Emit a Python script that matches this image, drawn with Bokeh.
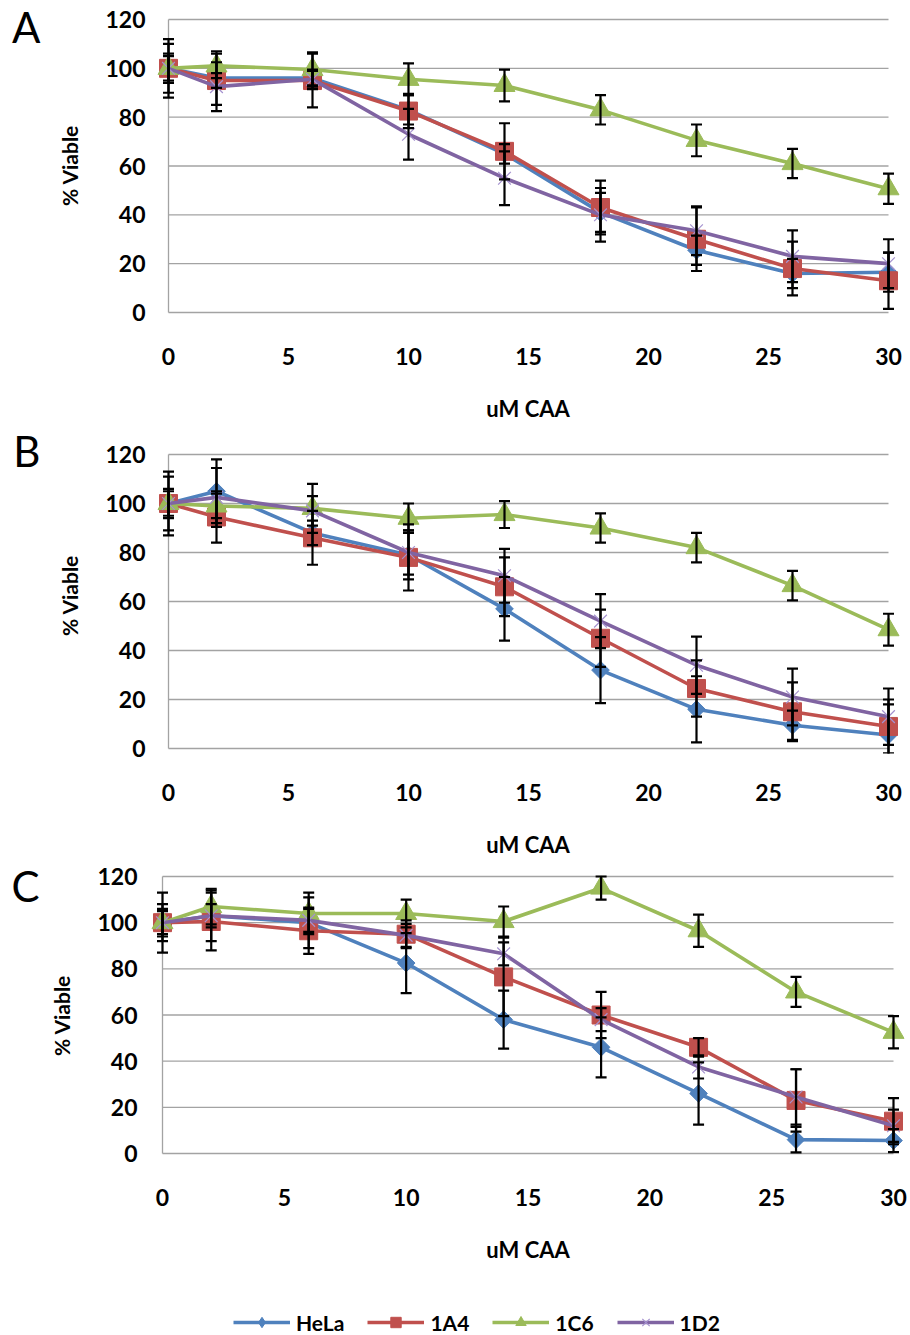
from bokeh.plotting import figure
from bokeh.layouts import column
from bokeh.models import Range1d, Legend, LegendItem, FixedTicker, LinearAxis
from bokeh.embed import file_html
from bokeh.resources import INLINE

# ---------------- data ----------------
conc = [0, 2, 6, 10, 14, 18, 22, 26, 30]
series_names = ["HeLa", "1A4", "1C6", "1D2"]
x_ticks = [0, 5, 10, 15, 20, 25, 30]
y_ticks = [0, 20, 40, 60, 80, 100, 120]
x_title = "uM CAA"
y_title = "% Viable"
panel_letters = ["A", "B", "C"]

# Panel A
a_hela = [100, 96, 96, 83, 65, 41, 25.5, 16, 16.5]
a_hela_err = [12, 11, 3, 6, 4, 8, 6, 6, 8]
a_1a4 = [100, 95, 95, 82.5, 66, 43, 30, 18, 13]
a_1a4_err = [6, 3, 11, 7, 11.5, 11, 13, 11, 11.5]
a_1c6 = [100, 101, 99.5, 95.5, 93, 83, 70.5, 61, 50.7]
a_1c6_err = [5, 5, 7, 6.5, 6.5, 6, 6.5, 6, 6.2]
a_1d2 = [100, 92.5, 95.5, 73, 55, 40, 33.5, 23, 20]
a_1d2_err = [10, 10, 4, 10.4, 11, 11, 10, 10.6, 10]

# Panel B
b_hela = [100, 105, 88, 79, 57, 32, 16, 9.5, 5.5]
b_hela_err = [13, 13, 5, 10, 13, 13.5, 13.5, 6, 12.5]
b_1a4 = [100, 94.5, 86, 78, 66, 45, 24.5, 15, 9]
b_1a4_err = [11, 10.5, 11, 13.5, 12, 11.7, 11.5, 12, 11]
b_1c6 = [100, 99, 98, 94, 95.5, 90, 82, 66.5, 48.5]
b_1c6_err = [5, 5, 10, 6, 5.5, 6, 6, 6, 6.5]
b_1d2 = [100, 102.5, 97, 80, 70.5, 52, 34, 21, 13]
b_1d2_err = [6, 12, 6, 9, 11, 11, 11.7, 11.6, 11.5]

# Panel C
c_hela = [100, 103, 100, 82.5, 58, 46, 26, 6, 5.6]
c_hela_err = [13, 11, 11, 13, 12.6, 13, 13.5, 5.5, 5]
c_1a4 = [100, 100.5, 96.5, 95, 76.5, 60, 46, 23, 14]
c_1a4_err = [8, 12.5, 10, 6, 17, 10, 4, 13.5, 10]
c_1c6 = [100, 107, 104, 104, 100.5, 115, 96.5, 70, 52.5]
c_1c6_err = [5, 7.7, 9, 6, 6.5, 5, 7, 6.5, 7]
c_1d2 = [100, 103, 101, 94.5, 86.5, 58, 37.5, 24.5, 12]
c_1d2_err = [6, 5, 5, 5, 5, 5, 5, 12, 7]

# ---------------- style / layout ----------------
FONT = "Lato"
colors = ["#4F81BD", "#C0504D", "#9BBB59", "#8064A2"]
xcolor = "#A592CF"
markers = ["square", "square", "triangle", "x"]
angles = [0.785398, 0.0, 0.0, 0.0]
msizes = [12.5, 18, 21, 18]
GRID = "#A3A3A3"
FL, FW, FR = 150, 755, 5   # common frame left, width, right border

panels = [
    dict(ys=[a_hela, a_1a4, a_1c6, a_1d2],
         errs=[a_hela_err, a_1a4_err, a_1c6_err, a_1d2_err],
         geo=(168, 888, 19, 312, 0, 426), frame_top=13, lab_right=145, let_so=14),
    dict(ys=[b_hela, b_1a4, b_1c6, b_1d2],
         errs=[b_hela_err, b_1a4_err, b_1c6_err, b_1d2_err],
         geo=(168, 888, 454, 748, 426, 436), frame_top=437, lab_right=145, let_so=14),
    dict(ys=[c_hela, c_1a4, c_1c6, c_1d2],
         errs=[c_hela_err, c_1a4_err, c_1c6_err, c_1d2_err],
         geo=(162, 893, 876, 1153, 862, 418), frame_top=872, lab_right=137, let_so=7),
]


def make_panel(cfg, letter):
    x0px, x30px, y120px, y0px, top, height = cfg["geo"]
    ppux = (x30px - x0px) / (x_ticks[-1] - x_ticks[0])
    ppuy = (y0px - y120px) / (y_ticks[-1] - y_ticks[0])
    ft_abs = cfg["frame_top"]
    fb_abs = round(y0px + 2 * ppuy)
    fh = fb_abs - ft_abs
    xs = x_ticks[0] + (FL - x0px) / ppux
    xe = xs + FW / ppux
    ybot = y_ticks[0] + (y0px - fb_abs) / ppuy
    ytop = ybot + fh / ppuy

    p = figure(frame_width=FW, frame_height=fh,
               min_border_left=FL, min_border_right=FR,
               min_border_top=ft_abs - top, min_border_bottom=height - (fb_abs - top),
               x_range=Range1d(xs, xe), y_range=Range1d(ybot, ytop),
               toolbar_location=None, output_backend="svg",
               outline_line_color=None, background_fill_color="white",
               border_fill_color="white")
    p.xgrid.visible = False
    p.ygrid.visible = False

    # gridlines and left axis line
    p.segment(x0=[x_ticks[0]] * len(y_ticks), x1=[x_ticks[-1]] * len(y_ticks),
              y0=y_ticks, y1=y_ticks, line_color=GRID, line_width=1.3)
    p.segment(x0=[x_ticks[0]], x1=[x_ticks[0]], y0=[y_ticks[0]], y1=[y_ticks[-1]],
              line_color=GRID, line_width=1.3)

    for i, (yv, col) in enumerate(zip(cfg["ys"], colors)):
        p.line(conc, yv, line_color=col, line_width=3.6)
        if markers[i] == "x":
            p.scatter(conc, yv, marker="x", size=msizes[i], line_color=xcolor,
                      line_width=1.2)
        else:
            p.scatter(conc, yv, marker=markers[i], size=msizes[i], angle=angles[i],
                      fill_color=col, line_color=col)

    for yv, ev in zip(cfg["ys"], cfg["errs"]):
        lo = [a - b for a, b in zip(yv, ev)]
        hi = [a + b for a, b in zip(yv, ev)]
        p.segment(x0=conc, x1=conc, y0=lo, y1=hi, line_color="black", line_width=2.2)
        p.scatter(conc, lo, marker="dash", size=11, line_color="black", line_width=2.2)
        p.scatter(conc, hi, marker="dash", size=11, line_color="black", line_width=2.2)

    # axes
    xa = p.xaxis[0]
    xa.ticker = FixedTicker(ticks=x_ticks)
    xa.axis_line_color = None
    xa.major_tick_line_color = None
    xa.minor_tick_line_color = None
    xa.major_tick_in = 0
    xa.major_tick_out = 0
    xa.major_label_standoff = 30
    xa.major_label_text_font = FONT
    xa.major_label_text_font_style = "bold"
    xa.major_label_text_font_size = "23px"
    xa.major_label_text_color = "black"
    xa.axis_label = x_title
    xa.axis_label_standoff = 27
    xa.axis_label_text_font = FONT
    xa.axis_label_text_font_style = "bold"
    xa.axis_label_text_font_size = "22px"
    xa.axis_label_text_color = "black"

    ya = p.yaxis[0]
    ya.ticker = FixedTicker(ticks=y_ticks)
    ya.axis_line_color = None
    ya.major_tick_line_color = None
    ya.minor_tick_line_color = None
    ya.major_tick_in = 0
    ya.major_tick_out = 0
    ya.major_label_standoff = FL - cfg["lab_right"]
    ya.major_label_text_font = FONT
    ya.major_label_text_font_style = "bold"
    ya.major_label_text_font_size = "23px"
    ya.major_label_text_color = "black"
    ya.axis_label = y_title
    ya.axis_label_standoff = 20
    ya.axis_label_text_font = FONT
    ya.axis_label_text_font_style = "bold"
    ya.axis_label_text_font_size = "21px"
    ya.axis_label_text_color = "black"

    # panel letter as the label of an extra (tickless) outer axis;
    # a leading empty line pushes the letter just below the frame top
    la = LinearAxis(ticker=FixedTicker(ticks=[]), axis_line_color=None,
                    major_tick_line_color=None, minor_tick_line_color=None,
                    major_tick_in=0, major_tick_out=0, major_label_standoff=0,
                    axis_label="\n" + letter, axis_label_standoff=cfg["let_so"],
                    axis_label_text_font=FONT, axis_label_text_font_size="42px",
                    axis_label_text_font_style="normal",
                    axis_label_text_color="black",
                    axis_label_text_line_height=0.55,
                    axis_label_orientation="horizontal")
    try:
        la.axis_label_align = "end"
    except Exception:
        pass
    p.add_layout(la, "left")
    return p


figs = [make_panel(c, l) for c, l in zip(panels, panel_letters)]

# legend strip (renderers hold real data but lie outside the visible range)
lp = figure(frame_width=FW, frame_height=26,
            min_border_left=FL, min_border_right=FR, min_border_top=29,
            min_border_bottom=0, x_range=Range1d(1000, 1001), y_range=Range1d(1000, 1001),
            x_axis_location=None, y_axis_location=None,
            toolbar_location=None, output_backend="svg",
            outline_line_color=None, background_fill_color="white",
            border_fill_color="white")
lp.xgrid.visible = False
lp.ygrid.visible = False
items = []
leg_markers = ["diamond", "square", "triangle", "x"]
leg_sizes = [19, 15, 16, 16]
for i, (name, col, yv) in enumerate(zip(series_names, colors, panels[2]["ys"])):
    lr = lp.line(conc, yv, line_color=col, line_width=3.6)
    if leg_markers[i] == "x":
        sr = lp.scatter(conc, yv, marker="x", size=leg_sizes[i],
                        line_color=xcolor, line_width=1.2)
    else:
        sr = lp.scatter(conc, yv, marker=leg_markers[i], size=leg_sizes[i],
                        fill_color=col, line_color=col)
    items.append(LegendItem(label=name, renderers=[lr, sr]))
legend = Legend(items=items, orientation="horizontal", location=(233 - FL, 0),
                margin=0, padding=0, spacing=23, glyph_width=57, glyph_height=26,
                label_height=26, label_standoff=6, label_text_font=FONT,
                label_text_font_size="21px", label_text_font_style="bold",
                label_text_color="black", border_line_color=None,
                background_fill_alpha=0)
lp.add_layout(legend)

layout = column(*figs, lp, spacing=0)
open("out.html", "w").write(file_html(layout, INLINE))
